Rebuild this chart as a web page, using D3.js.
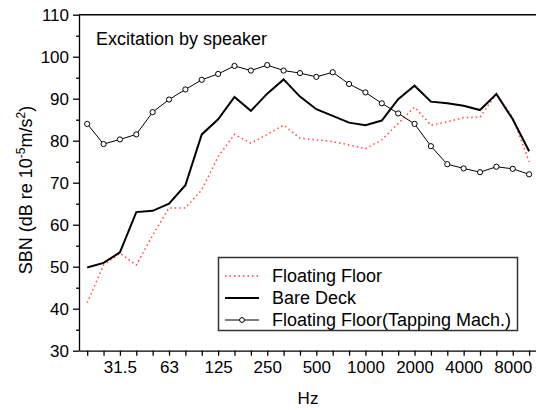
<!doctype html>
<html>
  <head>
    <script src="https://cdnjs.cloudflare.com/ajax/libs/d3/7.8.5/d3.min.js"></script>
    <style>
      body { margin: 0; background: #fff; }
      svg { font-family: "Liberation Sans", Arial, sans-serif; }
      .axis path, .axis line { stroke: #000; stroke-width: 1.3; }
      .axis text { font-size: 17px; fill: #000; }
      path.floating {
        fill: none;
        stroke: #f44;
        stroke-width: 1.5;
        stroke-dasharray: 1.5 3;
      }
      path.bare {
        fill: none;
        stroke: #000;
        stroke-width: 2;
      }
      path.tapping {
        fill: none;
        stroke: #000;
        stroke-width: 1;
      }
      circle.tapping {
        fill: #fff;
        stroke: #000;
        stroke-width: 1;
      }
    </style>
  </head>
  <body>
    <svg width="536" height="410"></svg>
    <script>
      // 1/3 octave band centres (Hz)
      var bands = ["20","25","31.5","40","50","63","80","100","125","160","200","250","315","400",
                   "500","630","800","1000","1250","1600","2000","2500","3150","4000","5000","6300","8000","10000"];
      var bandLabels = ["31.5","63","125","250","500","1000","2000","4000","8000"];

      var floatingFloor = [41.4,50.4,53.2,50.4,57.5,64.0,64.0,68.3,76.2,81.5,79.4,81.5,83.7,80.6,
                           80.2,79.8,79.0,78.1,80.2,84.1,88.0,83.7,84.5,85.5,85.6,91.2,85.5,75.0];
      var bareDeck = [49.8,50.9,53.4,63.0,63.3,65.0,69.4,81.5,85.1,90.4,87.1,91.2,94.6,90.5,
                      87.5,85.9,84.3,83.7,84.8,89.9,93.1,89.3,88.9,88.3,87.3,91.1,85.1,77.5];
      var tapping = [84.0,79.2,80.3,81.5,86.8,89.8,92.2,94.5,95.9,97.8,96.7,98.0,96.7,96.1,
                     95.2,96.3,93.5,91.5,88.9,86.5,84.0,78.7,74.4,73.4,72.5,73.8,73.3,72.0];

      var yMajor = d3.range(30, 111, 10);
      var yMinor = d3.range(35, 110, 10);

      var seriesNames = ["Floating Floor", "Bare Deck", "Floating Floor(Tapping Mach.)"];

      var svg = d3.select("svg");
      var plotL = 79, plotR = 537.3, plotT = 14.7, plotB = 350.7;

      var x = d3.scalePoint().domain(bands).range([plotL, plotR]).padding(0.5);
      var y = d3.scaleLinear().domain([30, 110]).range([plotB, plotT]);

      // frame (top / right)
      svg.append("path")
        .attr("d", "M" + plotL + "," + plotT + "H" + plotR + "V" + plotB)
        .attr("fill", "none").attr("stroke", "#000").attr("stroke-width", 1.5);

      svg.append("g").attr("class", "axis")
        .attr("transform", "translate(0," + plotB + ")")
        .call(d3.axisBottom(x).tickSize(5).tickSizeOuter(0).tickPadding(5)
          .tickFormat(d => bandLabels.indexOf(d) >= 0 ? d : ""));

      svg.append("g").attr("class", "axis")
        .attr("transform", "translate(" + plotL + ",0)")
        .call(d3.axisLeft(y).tickValues(yMajor).tickSize(6).tickSizeOuter(0).tickPadding(4));

      svg.append("g").attr("class", "axis")
        .attr("transform", "translate(" + plotL + ",0)")
        .call(d3.axisLeft(y).tickValues(yMinor).tickSize(3).tickSizeOuter(0).tickFormat(""))
        .select("path").remove();

      var line = d3.line().x((d, i) => x(bands[i])).y(d => y(d));

      svg.append("path").datum(floatingFloor).attr("class", "floating").attr("d", line);
      svg.append("path").datum(bareDeck).attr("class", "bare").attr("d", line);
      svg.append("path").datum(tapping).attr("class", "tapping").attr("d", line);
      svg.selectAll("circle.tapping").data(tapping).enter().append("circle")
        .attr("class", "tapping")
        .attr("r", 2.6)
        .attr("cx", (d, i) => x(bands[i]))
        .attr("cy", d => y(d));

      // annotation
      svg.append("text").attr("x", 96).attr("y", 45).attr("font-size", 18).text("Excitation by speaker");

      // axis titles
      svg.append("text").attr("x", 308).attr("y", 404).attr("text-anchor", "middle")
        .attr("font-size", 17).text("Hz");

      var yl = svg.append("text").attr("text-anchor", "middle").attr("font-size", 18)
        .attr("transform", "translate(32,190) rotate(-90)");
      yl.append("tspan").text("SBN (dB re 10");
      yl.append("tspan").attr("dy", -7).attr("font-size", 12).text("-5");
      yl.append("tspan").attr("dy", 7).text("m/s");
      yl.append("tspan").attr("dy", -7).attr("font-size", 12).text("2");
      yl.append("tspan").attr("dy", 7).text(")");

      // legend
      var lg = svg.append("g");
      lg.append("rect").attr("x", 218.5).attr("y", 257.5).attr("width", 299).attr("height", 73)
        .attr("fill", "#fff").attr("stroke", "#333").attr("stroke-width", 1.5);
      var cls = ["floating", "bare", "tapping"];
      seriesNames.forEach(function (name, i) {
        var ly = 276 + i * 22;
        lg.append("path").attr("class", cls[i]).attr("d", "M225," + ly + "H259");
        if (i === 2) {
          lg.append("circle").attr("class", "tapping").attr("r", 2.4).attr("cx", 242).attr("cy", ly);
        }
        lg.append("text").attr("x", 272).attr("y", ly + 6).attr("font-size", 18).text(name);
      });
    </script>
  </body>
</html>
